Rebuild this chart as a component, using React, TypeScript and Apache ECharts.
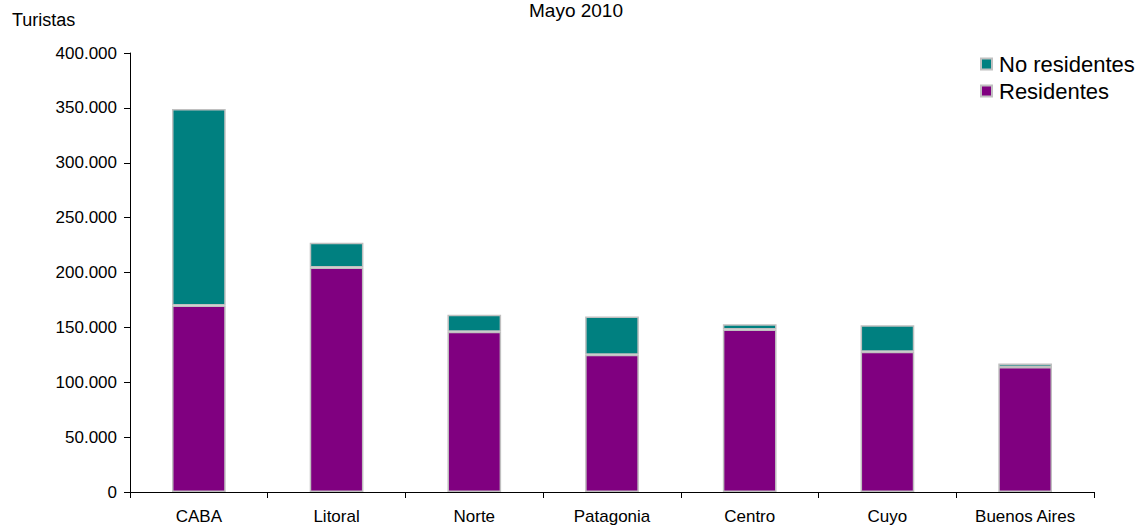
import React, { useEffect, useRef } from "react";
import * as echarts from "echarts";

const categories = ["CABA", "Litoral", "Norte", "Patagonia", "Centro", "Cuyo", "Buenos Aires"];
const residentes = [170000, 204500, 146000, 125000, 148000, 127700, 114000];
const noResidentes = [179000, 22500, 15600, 35000, 4800, 24300, 3000];
const yTicks = { min: 0, max: 400000, interval: 50000 };

const FONT = "'Liberation Sans', Arial, sans-serif";
const fmt = (v: number) => String(v).replace(/\B(?=(\d{3})+(?!\d))/g, ".");

export default function App() {
  const ref = useRef<HTMLDivElement>(null);
  useEffect(() => {
    if (!ref.current) return;
    const chart = echarts.init(ref.current, undefined, { renderer: "svg" });
    chart.setOption({
      animation: false,
      backgroundColor: "#ffffff",
      textStyle: { fontFamily: FONT },
      graphic: [
        {
          type: "text",
          x: 576,
          y: 1,
          style: { text: "Mayo 2010", fontSize: 19, fontFamily: FONT, fill: "#000", textAlign: "center", textVerticalAlign: "top" },
        },
        {
          type: "text",
          x: 12,
          y: 20,
          style: { text: "Turistas", fontSize: 18, fontFamily: FONT, fill: "#000", textAlign: "left", textVerticalAlign: "middle" },
        },
      ],
      legend: {
        data: ["No residentes", "Residentes"],
        orient: "vertical",
        left: 975,
        top: 48,
        itemWidth: 11,
        itemHeight: 11,
        itemGap: 5,
        icon: "rect",
        textStyle: { fontSize: 22, color: "#000", fontFamily: FONT, padding: [0, 0, 0, 2] },
      },
      grid: { left: 130, right: 45, top: 53, bottom: 32, containLabel: false },
      xAxis: {
        type: "category",
        data: categories,
        axisLine: { lineStyle: { color: "#000", width: 1 } },
        axisTick: { show: true, length: 6, lineStyle: { color: "#000" } },
        axisLabel: { fontSize: 17, color: "#000", margin: 16, fontFamily: FONT, interval: 0 },
      },
      yAxis: {
        type: "value",
        min: yTicks.min,
        max: yTicks.max,
        interval: yTicks.interval,
        splitLine: { show: false },
        axisLine: { show: true, lineStyle: { color: "#000", width: 1 } },
        axisTick: { show: true, length: 6, lineStyle: { color: "#000" } },
        axisLabel: { fontSize: 17, color: "#000", margin: 13, fontFamily: FONT, formatter: (v: number) => fmt(v) },
      },
      series: [
        {
          name: "Residentes",
          type: "bar",
          stack: "total",
          barWidth: "39%",
          data: residentes,
          itemStyle: { color: "#800080", borderColor: "#c0c0c0", borderWidth: 1.5 },
        },
        {
          name: "No residentes",
          type: "bar",
          stack: "total",
          barWidth: "39%",
          data: noResidentes,
          itemStyle: { color: "#008080", borderColor: "#c0c0c0", borderWidth: 1.5 },
        },
      ],
    });
    return () => chart.dispose();
  }, []);
  return <div ref={ref} style={{ position: "absolute", left: 0, top: 0, width: 1139, height: 525 }} />;
}
